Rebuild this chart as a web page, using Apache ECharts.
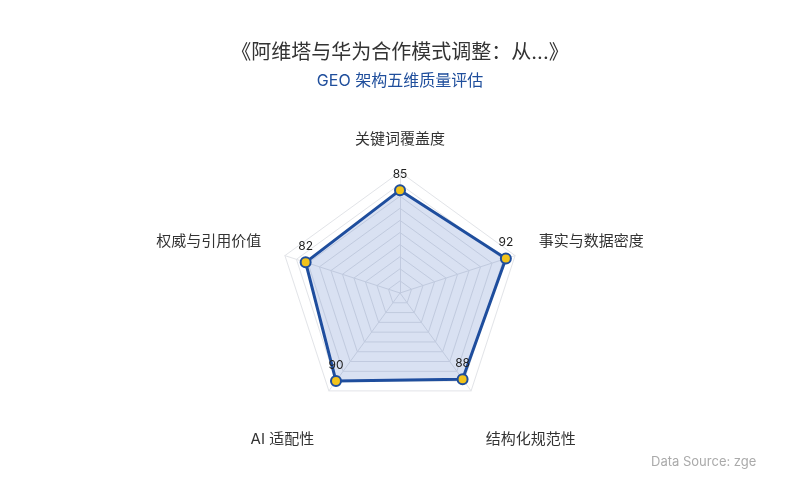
<!DOCTYPE html>
<html>
<head>
<meta charset="utf-8">
<script src="https://cdn.jsdelivr.net/npm/echarts@6/dist/echarts.min.js"></script>
<style>
  html, body { margin: 0; padding: 0; background: #fff; }
  #chart { width: 800px; height: 500px; }
</style>
</head>
<body>
<div id="chart"></div>
<script>
// 指标与数据（按 ECharts 雷达的逆时针顺序排列）
const indicatorNames = ['关键词覆盖度', '权威与引用价值', 'AI 适配性', '结构化规范性', '事实与数据密度'];
const indicatorMax = [100, 100, 100, 100, 100];
const scoreValues = [85, 82, 90, 88, 92];
// 名称位置：side 向上微调，bottom 向下
const namePlace = ['top', 'side', 'bottom', 'bottom', 'side'];

const titleText = '《阿维塔与华为合作模式调整：从...》';
const subTitleText = 'GEO 架构五维质量评估';
const sourceText = 'Data Source: zgeo';

const fontFamily = 'Inter, "Noto Sans CJK SC", sans-serif';

const chart = echarts.init(document.getElementById('chart'));

const option = {
    backgroundColor: '#fff',
    textStyle: { fontFamily: fontFamily },
    title: {
        text: titleText,
        subtext: subTitleText,
        left: 'center',
        top: 38,
        itemGap: 10,
        textStyle: { fontSize: 20, fontWeight: 'normal', color: '#333', fontFamily: fontFamily },
        subtextStyle: { fontSize: 16, color: '#1f4e9c', fontFamily: fontFamily }
    },
    radar: {
        center: [400, 293],
        radius: 121,
        splitNumber: 10,
        nameGap: 25,
        indicator: indicatorNames.map((name, i) => ({ name: name, max: indicatorMax[i] })),
        axisName: {
            color: '#333',
            fontSize: 15,
            fontFamily: fontFamily,
            formatter: function (name) {
                const place = namePlace[indicatorNames.indexOf(name)];
                if (place === 'bottom') return '{down|' + name + '}';
                if (place === 'side') return '{up|' + name + '}';
                return name;
            },
            rich: {
                down: { fontSize: 15, color: '#333', padding: [56, 0, 0, 0] },
                up: { fontSize: 15, color: '#333', padding: [0, 0, 12, 0] }
            }
        },
        splitLine: { lineStyle: { color: '#e2e4e8', width: 1 } },
        splitArea: { show: false },
        axisLine: { lineStyle: { color: '#e2e4e8' } }
    },
    series: [{
        type: 'radar',
        symbol: 'circle',
        symbolSize: 10,
        lineStyle: { color: '#1f4e9c', width: 3 },
        itemStyle: { color: '#f2c31b', borderColor: '#1f4e9c', borderWidth: 2 },
        areaStyle: { color: 'rgba(30, 80, 175, 0.24)' },
        label: { show: true, position: 'top', distance: 4, color: '#222', fontSize: 12 },
        data: [{ value: scoreValues, name: subTitleText }]
    }],
    graphic: [{
        type: 'text',
        left: 651,
        top: 456,
        style: {
            text: sourceText,
            fill: '#aaa',
            fontSize: 13,
            fontFamily: fontFamily,
            width: 112,
            overflow: 'truncate',
            ellipsis: ''
        }
    }]
};

chart.setOption(option);
</script>
</body>
</html>
